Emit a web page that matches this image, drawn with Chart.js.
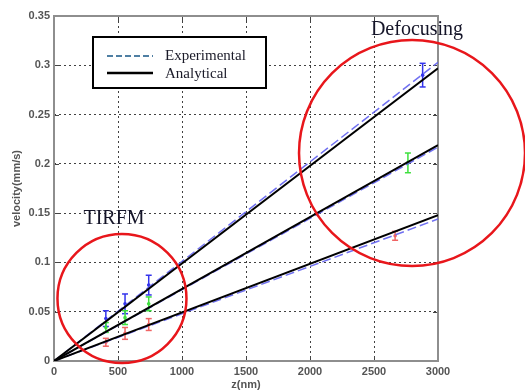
<!DOCTYPE html>
<html>
<head>
<meta charset="utf-8">
<script src="https://cdn.jsdelivr.net/npm/chart.js@4/dist/chart.umd.min.js"></script>
<style>
  html, body { margin: 0; padding: 0; background: #fff; }
  canvas { display: block; }
</style>
</head>
<body>
<canvas id="c" width="525" height="392"></canvas>
<script>
// Axis ticks
const xTickLabels = ['0', '500', '1000', '1500', '2000', '2500', '3000'];
const yTickLabels = ['0', '0.05', '0.1', '0.15', '0.2', '0.25', '0.3', '0.35'];

// Fitted velocity at z = 3000 nm for each particle (lines start at the origin)
const lineZ = [0, 3000];
const analyticalEnd = [0.297, 0.219, 0.148];
const experimentalEnd = [0.303, 0.217, 0.144];

// Measured velocities (mm/s) with error half-widths
const zBlue = [405, 555, 740, 2880];
const vBlue = [0.043, 0.058, 0.077, 0.290];
const eBlue = [0.008, 0.010, 0.010, 0.012];

const zGreen = [405, 555, 740, 2765];
const vGreen = [0.034, 0.044, 0.058, 0.201];
const eGreen = [0.005, 0.007, 0.007, 0.010];

const zRed = [405, 555, 740, 2665];
const vRed = [0.019, 0.028, 0.037, 0.127];
const eRed = [0.004, 0.006, 0.006, 0.0045];

const legendLabels = ['Experimental', 'Analytical'];

// Regions marked on the plot: centre in data units, label text
const regionNames = ['TIRFM', 'Defocusing'];
const regionCentreZ = [531, 2797];
const regionCentreV = [0.0634, 0.211];
const regionLabelZ = [469, 2836];
const regionLabelV = [0.144, 0.336];

const BLUE = '#3434ec';
const GREEN = '#3ee03e';
const RED = '#f06464';
const DASH_BLUE = 'rgba(96,96,240,0.9)';

function lineData(end) {
  return lineZ.map(z => ({ x: z, y: end * z / lineZ[1] }));
}

// error bar segments, separated by gaps
function barData(zs, vs, es) {
  const out = [];
  zs.forEach((z, i) => {
    out.push({ x: z, y: vs[i] - es[i] }, { x: z, y: vs[i] + es[i] }, { x: z, y: null });
  });
  return out;
}
function pointData(zs, vs) {
  return zs.map((z, i) => ({ x: z, y: vs[i] }));
}

const datasets = [];
analyticalEnd.forEach(end => datasets.push({
  data: lineData(end), showLine: true, borderColor: '#000', borderWidth: 2,
  pointRadius: 0, fill: false
}));
experimentalEnd.forEach(end => datasets.push({
  data: lineData(end), showLine: true, borderColor: DASH_BLUE, borderWidth: 1.5,
  borderDash: [9, 4], pointRadius: 0, fill: false
}));
[[zRed, vRed, eRed, RED], [zGreen, vGreen, eGreen, GREEN], [zBlue, vBlue, eBlue, BLUE]].forEach(([zs, vs, es, col]) => {
  datasets.push({
    data: barData(zs, vs, es), showLine: true, spanGaps: false,
    borderColor: col, borderWidth: 1.5, pointStyle: 'line', pointRadius: 3,
    pointBorderColor: col, pointBorderWidth: 1.5
  });
  datasets.push({
    data: pointData(zs, vs), showLine: false, pointStyle: 'circle', pointRadius: 1.8,
    pointBackgroundColor: col, pointBorderColor: col, pointBorderWidth: 0
  });
});

const overlay = {
  id: 'overlay',
  beforeDatasetsDraw(chart) {
    const { ctx, chartArea: a, scales } = chart;
    ctx.save();
    // inward tick marks on all four sides
    ctx.strokeStyle = '#444';
    ctx.lineWidth = 1;
    const tl = 5;
    scales.x.ticks.forEach(t => {
      const px = Math.round(scales.x.getPixelForValue(t.value)) + 0.5;
      ctx.beginPath();
      ctx.moveTo(px, a.bottom); ctx.lineTo(px, a.bottom - tl);
      ctx.moveTo(px, a.top); ctx.lineTo(px, a.top + tl);
      ctx.stroke();
    });
    scales.y.ticks.forEach(t => {
      const py = Math.round(scales.y.getPixelForValue(t.value)) + 0.5;
      ctx.beginPath();
      ctx.moveTo(a.left, py); ctx.lineTo(a.left + tl, py);
      ctx.moveTo(a.right, py); ctx.lineTo(a.right - tl, py);
      ctx.stroke();
    });
    // frame
    ctx.strokeStyle = '#8e8e8e';
    ctx.lineWidth = 2;
    ctx.strokeRect(a.left, a.top, a.right - a.left, a.bottom - a.top);
    ctx.restore();
  },
  afterDraw(chart) {
    const { ctx, scales } = chart;
    ctx.save();
    // legend
    const lx = 93, ly = 37, lw = 173, lh = 51;
    ctx.fillStyle = '#fff';
    ctx.fillRect(lx, ly, lw, lh);
    ctx.strokeStyle = '#000';
    ctx.lineWidth = 2;
    ctx.strokeRect(lx, ly, lw, lh);
    ctx.lineWidth = 2;
    ctx.strokeStyle = '#4f7fa3';
    ctx.setLineDash([6, 3]);
    ctx.beginPath(); ctx.moveTo(107, 56); ctx.lineTo(153, 56); ctx.stroke();
    ctx.setLineDash([]);
    ctx.strokeStyle = '#000';
    ctx.lineWidth = 2.5;
    ctx.beginPath(); ctx.moveTo(107, 73); ctx.lineTo(153, 73); ctx.stroke();
    ctx.fillStyle = '#1a1a28';
    ctx.font = '15px "Liberation Serif", "DejaVu Serif", serif';
    ctx.textAlign = 'left';
    ctx.textBaseline = 'middle';
    ctx.fillText(legendLabels[0], 165, 56);
    ctx.fillText(legendLabels[1], 165, 74);

    // region circles and labels
    const radii = [64.5, 113];
    ctx.strokeStyle = '#e8161b';
    ctx.lineWidth = 2.5;
    regionNames.forEach((name, i) => {
      const cx = scales.x.getPixelForValue(regionCentreZ[i]);
      const cy = scales.y.getPixelForValue(regionCentreV[i]);
      ctx.beginPath();
      ctx.arc(cx, cy, radii[i], 0, Math.PI * 2);
      ctx.stroke();
    });
    ctx.fillStyle = '#141428';
    ctx.font = '20px "Liberation Serif", "DejaVu Serif", serif';
    ctx.textAlign = 'center';
    regionNames.forEach((name, i) => {
      ctx.fillText(name, scales.x.getPixelForValue(regionLabelZ[i]), scales.y.getPixelForValue(regionLabelV[i]));
    });
    ctx.restore();
  }
};

const tickFont = { family: '"Liberation Sans", Arial, sans-serif', size: 11, weight: 'bold' };

new Chart(document.getElementById('c'), {
  type: 'scatter',
  data: { datasets },
  options: {
    responsive: false,
    animation: false,
    layout: { padding: { top: 16, right: 87, left: 0, bottom: 0 } },
    plugins: { legend: { display: false }, tooltip: { enabled: false } },
    scales: {
      x: {
        type: 'linear', min: 0, max: 3000,
        ticks: { stepSize: 500, color: '#555', font: tickFont, padding: 4,
                 callback: (v, i) => xTickLabels[i] },
        grid: { color: 'rgba(0,0,0,0.75)', lineWidth: 1, drawTicks: false },
        border: { display: false, dash: [2, 3] },
        title: { display: true, text: 'z(nm)', color: '#555', font: tickFont, padding: { top: 0, bottom: 0 } },
        afterFit(scale) { scale.height = 31; }
      },
      y: {
        type: 'linear', min: 0, max: 0.35,
        ticks: { stepSize: 0.05, color: '#555', font: tickFont, padding: 4,
                 callback: (v, i) => yTickLabels[i] },
        grid: { color: 'rgba(0,0,0,0.75)', lineWidth: 1, drawTicks: false },
        border: { display: false, dash: [2, 3] },
        title: { display: true, text: 'velocity(mm/s)', color: '#555', font: tickFont, padding: { top: 10, bottom: 0 } },
        afterFit(scale) { scale.width = 54; }
      }
    }
  },
  plugins: [overlay]
});
</script>
</body>
</html>
